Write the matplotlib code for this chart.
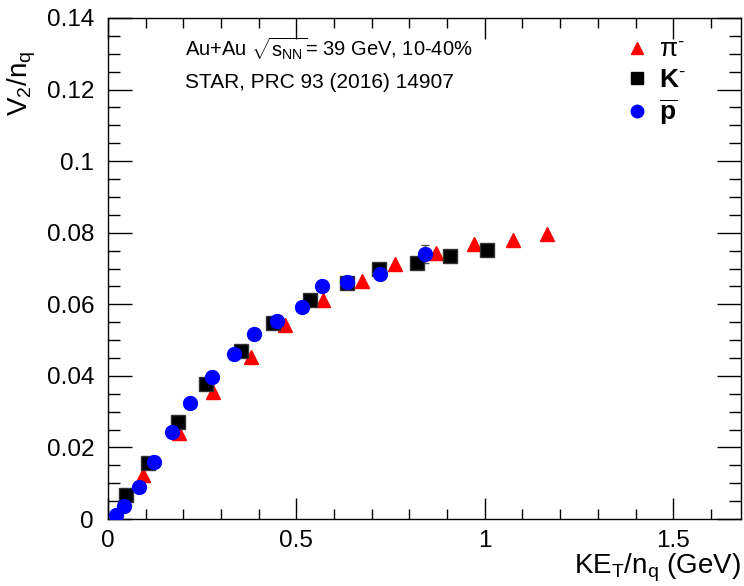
import matplotlib
matplotlib.use("Agg")
import matplotlib.pyplot as plt
from matplotlib.lines import Line2D
from matplotlib.ticker import MultipleLocator, FixedFormatter, FixedLocator

plt.rcParams['font.family'] = ['Liberation Sans', 'DejaVu Sans']
plt.rcParams['mathtext.fontset'] = 'custom'
plt.rcParams['mathtext.rm'] = 'Liberation Sans'
plt.rcParams['mathtext.it'] = 'Liberation Sans'
plt.rcParams['mathtext.bf'] = 'Liberation Sans:bold'

# v2/nq versus KE_T/nq, Au+Au 39 GeV, 10-40% centrality
pi_ket = [0.092, 0.189, 0.278, 0.380, 0.469, 0.571, 0.675, 0.763, 0.870, 0.972, 1.074, 1.165]
pi_v2 = [0.0123, 0.0241, 0.0356, 0.0453, 0.0542, 0.0612, 0.0666, 0.0712, 0.0744, 0.0768, 0.0781, 0.0796]

k_ket = [0.048, 0.105, 0.185, 0.260, 0.354, 0.437, 0.535, 0.633, 0.719, 0.819, 0.908, 1.007]
k_v2 = [0.0067, 0.0157, 0.0270, 0.0376, 0.0469, 0.0547, 0.0612, 0.0660, 0.0698, 0.0714, 0.0735, 0.0753]

p_ket = [0.020, 0.043, 0.082, 0.121, 0.170, 0.218, 0.276, 0.335, 0.387, 0.449, 0.515, 0.568, 0.635, 0.721, 0.841]
p_v2 = [0.0011, 0.0036, 0.0089, 0.0160, 0.0244, 0.0323, 0.0396, 0.0461, 0.0516, 0.0554, 0.0593, 0.0651, 0.0663, 0.0686, 0.0740]
p_err = [0.0004, 0.0004, 0.0004, 0.0005, 0.0005, 0.0005, 0.0006, 0.0006, 0.0007, 0.0008, 0.0009, 0.0010, 0.0012, 0.0015, 0.0026]

x_ticks = [0, 0.5, 1, 1.5]
x_tick_labels = ['0', '0.5', '1', '1.5']
y_ticks = [0, 0.02, 0.04, 0.06, 0.08, 0.1, 0.12, 0.14]
y_tick_labels = ['0', '0.02', '0.04', '0.06', '0.08', '0.1', '0.12', '0.14']

fig = plt.figure(figsize=(7.44, 5.86), dpi=100)
ax = fig.add_axes([108 / 744, 1 - 519 / 586, 633 / 744, 501 / 586])

ax.errorbar(p_ket, p_v2, yerr=p_err, fmt='none', ecolor='#555555', elinewidth=1, capsize=3, zorder=2)
ax.plot(pi_ket, pi_v2, linestyle='none', marker='^', ms=10, color='red', mec='red', zorder=3)
ax.plot(k_ket, k_v2, linestyle='none', marker='s', ms=9.5, color='black', mec='#333333', zorder=3)
ax.plot(p_ket, p_v2, linestyle='none', marker='o', ms=10, color='blue', mec='blue', zorder=4)

ax.set_xlim(0, 1.68)
ax.set_ylim(0, 0.14)
ax.xaxis.set_major_locator(FixedLocator(x_ticks))
ax.xaxis.set_major_formatter(FixedFormatter(x_tick_labels))
ax.yaxis.set_major_locator(FixedLocator(y_ticks))
ax.yaxis.set_major_formatter(FixedFormatter(y_tick_labels))
ax.xaxis.set_minor_locator(MultipleLocator(0.1))
ax.yaxis.set_minor_locator(MultipleLocator(0.005))

ax.tick_params(which='both', direction='in', top=True, right=True, labelsize=17.5, width=1, color='black')
ax.tick_params(axis='x', which='major', length=15, pad=8)
ax.tick_params(axis='x', which='minor', length=7.5)
ax.tick_params(axis='y', which='major', length=17, pad=10)
ax.tick_params(axis='y', which='minor', length=8.5)
for s in ax.spines.values():
    s.set_linewidth(1)

ax.set_xlabel(r'KE$_{\mathrm{T}}$/n$_{\mathrm{q}}$ (GeV)', fontsize=20, loc='right')
ax.xaxis.set_label_coords(1.0, -0.066)
ax.set_ylabel(r'V$_{2}$/n$_{\mathrm{q}}$', fontsize=20, loc='top')
ax.yaxis.set_label_coords(-0.11, 0.935)

ax.text(0.122, 0.940, r'Au+Au $\sqrt{\mathrm{s}_{\mathrm{NN}}}$= 39 GeV, 10-40%', transform=ax.transAxes,
        fontsize=14.5, va='center', ha='left')
ax.text(0.122, 0.872, 'STAR, PRC 93 (2016) 14907', transform=ax.transAxes,
        fontsize=15, va='center', ha='left')

handles = [
    Line2D([], [], linestyle='none', marker='^', ms=9, color='red', mec='red'),
    Line2D([], [], linestyle='none', marker='s', ms=9, color='black'),
    Line2D([], [], linestyle='none', marker='o', ms=9, color='blue', mec='blue'),
]
labels = [r'$\mathrm{\pi}^{\mathrm{\text{-}}}$', r'$\mathbf{K}^{\mathbf{\text{-}}}$', r'$\overline{\mathbf{p}}$']
ax.legend(handles, labels, loc='upper left', bbox_to_anchor=(0.794, 0.985), frameon=False,
          fontsize=19, handlelength=1.0, handletextpad=0.35, labelspacing=0.2, borderpad=0)

fig.savefig('out.png', dpi=100)
